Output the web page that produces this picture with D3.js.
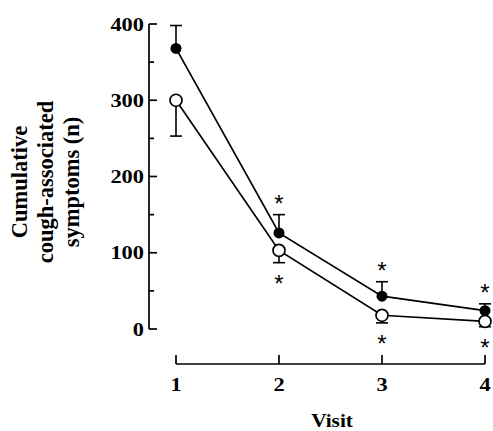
<!DOCTYPE html>
<html><head><meta charset="utf-8">
<script src="https://cdn.jsdelivr.net/npm/d3@7"></script>
<style>body{margin:0;background:#fff}text{font-family:"Liberation Serif","Times New Roman",serif;font-weight:bold;fill:#000}</style>
</head><body><svg id="c" width="493" height="431"></svg>
<script>
const visits = [1, 2, 3, 4];
const filledMean = [368, 126, 43, 24];
const filledUpper = [398, 150, 62, 33];
const openMean = [300, 103, 18, 10];
const openLower = [253, 87, 8, 3];
const starsAbove = [false, true, true, true];
const starsBelow = [false, true, true, true];
const yTicks = [0, 100, 200, 300, 400];
const yMinor = [50, 150, 250, 350];

const svg = d3.select("#c");
const x = d3.scaleLinear().domain([1, 4]).range([176, 485]);
const y = d3.scaleLinear().domain([0, 400]).range([329, 24]);
const SX = 1.18;

// y axis
const ya = svg.append("g").attr("transform", "translate(149,0)");
ya.append("line").attr("y1", y(0)).attr("y2", y(400)).attr("stroke", "#000").attr("stroke-width", 1.7);
ya.selectAll(".mj").data(yTicks).enter().append("line")
  .attr("x1", 0).attr("x2", 8).attr("y1", d => y(d)).attr("y2", d => y(d)).attr("stroke", "#000").attr("stroke-width", 1.7);
ya.selectAll(".mn").data(yMinor).enter().append("line")
  .attr("x1", 0).attr("x2", 5).attr("y1", d => y(d)).attr("y2", d => y(d)).attr("stroke", "#000").attr("stroke-width", 1.7);
ya.selectAll("text").data(yTicks).enter().append("text")
  .attr("transform", d => `translate(-5,${y(d) + 6.5}) scale(${SX},1)`).attr("text-anchor", "end").attr("font-size", 19).text(d => d);

// x axis
const xa = svg.append("g").attr("transform", "translate(0,364)");
xa.append("line").attr("x1", x(1)).attr("x2", x(4)).attr("stroke", "#000").attr("stroke-width", 1.7);
xa.selectAll(".t").data(visits).enter().append("line")
  .attr("x1", d => x(d)).attr("x2", d => x(d)).attr("y1", 0).attr("y2", -9).attr("stroke", "#000").attr("stroke-width", 1.7);
xa.selectAll("text").data(visits).enter().append("text")
  .attr("transform", d => `translate(${x(d)},27) scale(${SX},1)`).attr("text-anchor", "middle").attr("font-size", 19).text(d => d);
svg.append("text").attr("transform", `translate(332,427) scale(1.12,1)`).attr("text-anchor", "middle").attr("font-size", 19).text("Visit");

// y title
const yt = svg.append("text").attr("transform", "translate(0,182) rotate(-90)").attr("text-anchor", "middle").attr("font-size", 22.5);
["Cumulative", "cough-associated", "symptoms (n)"].forEach((s, i) => {
  yt.append("tspan").attr("x", 0).attr("y", 27 + i * 26).text(s);
});

const line = d3.line().x((d, i) => x(visits[i])).y(d => y(d));
function ebar(means, ends) {
  visits.forEach((v, i) => {
    svg.append("line").attr("x1", x(v)).attr("x2", x(v)).attr("y1", y(means[i])).attr("y2", y(ends[i])).attr("stroke", "#000").attr("stroke-width", 1.6);
    svg.append("line").attr("x1", x(v) - 6).attr("x2", x(v) + 6).attr("y1", y(ends[i])).attr("y2", y(ends[i])).attr("stroke", "#000").attr("stroke-width", 1.6);
  });
}
ebar(filledMean, filledUpper);
ebar(openMean, openLower);
svg.append("path").attr("d", line(filledMean)).attr("fill", "none").attr("stroke", "#000").attr("stroke-width", 1.7);
svg.append("path").attr("d", line(openMean)).attr("fill", "none").attr("stroke", "#000").attr("stroke-width", 1.7);
svg.selectAll(".f").data(filledMean).enter().append("circle")
  .attr("cx", (d, i) => x(visits[i])).attr("cy", d => y(d)).attr("r", 5.5).attr("fill", "#000");
svg.selectAll(".o").data(openMean).enter().append("circle")
  .attr("cx", (d, i) => x(visits[i])).attr("cy", d => y(d)).attr("r", 6).attr("fill", "#fff").attr("stroke", "#000").attr("stroke-width", 1.7);

// stars
visits.forEach((v, i) => {
  if (starsAbove[i]) svg.append("text").attr("x", x(v)).attr("y", y(filledUpper[i]) - 3).attr("text-anchor", "middle").attr("font-size", 24).style("font-weight", "normal").style("font-family", "'Liberation Sans',sans-serif").text("*");
  if (starsBelow[i]) svg.append("text").attr("x", x(v)).attr("y", y(openLower[i]) + 29).attr("text-anchor", "middle").attr("font-size", 24).style("font-weight", "normal").style("font-family", "'Liberation Sans',sans-serif").text("*");
});
</script></body></html>
